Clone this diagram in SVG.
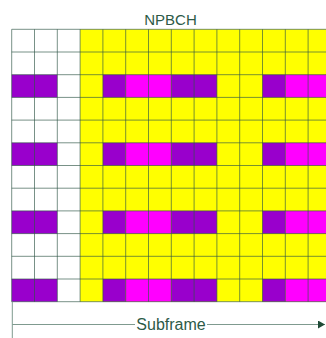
<svg xmlns="http://www.w3.org/2000/svg" width="326" height="338" viewBox="0 0 326 338">
<style>
.t{font-family:"Liberation Sans",Arial,sans-serif;fill:#2d5a47}
.w{fill:#ffffff}.y{fill:#ffff00}.p{fill:#9900cc}.m{fill:#ff00ff}
.g{fill:none;stroke:#2f5646;stroke-opacity:0.65;stroke-width:1}
.ax{fill:none;stroke:#7f9a8f;stroke-width:1}
</style>
<defs>
<marker id="ah" markerWidth="8" markerHeight="8" refX="7" refY="4" orient="auto" markerUnits="userSpaceOnUse">
<path d="M0,0 L7,4 L0,8 Z" fill="#1f4a36"/>
</marker>
<g id="prow">
<rect class="p" x="11.7" y="0" width="45.6" height="22.7"/>
<rect class="p" x="102.9" y="0" width="22.8" height="22.7"/>
<rect class="m" x="125.7" y="0" width="45.6" height="22.7"/>
<rect class="p" x="171.3" y="0" width="45.6" height="22.7"/>
<rect class="p" x="262.5" y="0" width="22.8" height="22.7"/>
<rect class="m" x="285.3" y="0" width="45.6" height="22.7"/>
</g>
</defs>
<rect width="326" height="338" fill="#ffffff"/>
<text class="t" x="170.5" y="25" font-size="15" text-anchor="middle">NPBCH</text>
<g id="grid">
<rect class="w" x="11.7" y="29.3" width="68.4" height="272.4"/>
<rect class="y" x="80.1" y="29.3" width="250.8" height="272.4"/>
<use href="#prow" y="74.7"/>
<use href="#prow" y="142.8"/>
<use href="#prow" y="210.9"/>
<use href="#prow" y="279"/>
<path class="g" d="M11.7,29.3V301.7M34.5,29.3V301.7M57.3,29.3V301.7M80.1,29.3V301.7M102.9,29.3V301.7M125.7,29.3V301.7M148.5,29.3V301.7M171.3,29.3V301.7M194.1,29.3V301.7M216.9,29.3V301.7M239.7,29.3V301.7M262.5,29.3V301.7M285.3,29.3V301.7M308.1,29.3V301.7
M11.7,29.3H326M11.7,52H326M11.7,74.7H326M11.7,97.4H326M11.7,120.1H326M11.7,142.8H326M11.7,165.5H326M11.7,188.2H326M11.7,210.9H326M11.7,233.6H326M11.7,256.3H326M11.7,279H326M11.7,301.7H326"/>
</g>
<g id="connectors">
<path class="ax" d="M12.3,301.7V338"/>
<path class="ax" d="M12.3,324.5H135"/>
<path class="ax" d="M207,324.5H325" marker-end="url(#ah)"/>
</g>
<text class="t" x="171" y="330" font-size="16" text-anchor="middle">Subframe</text>
</svg>
